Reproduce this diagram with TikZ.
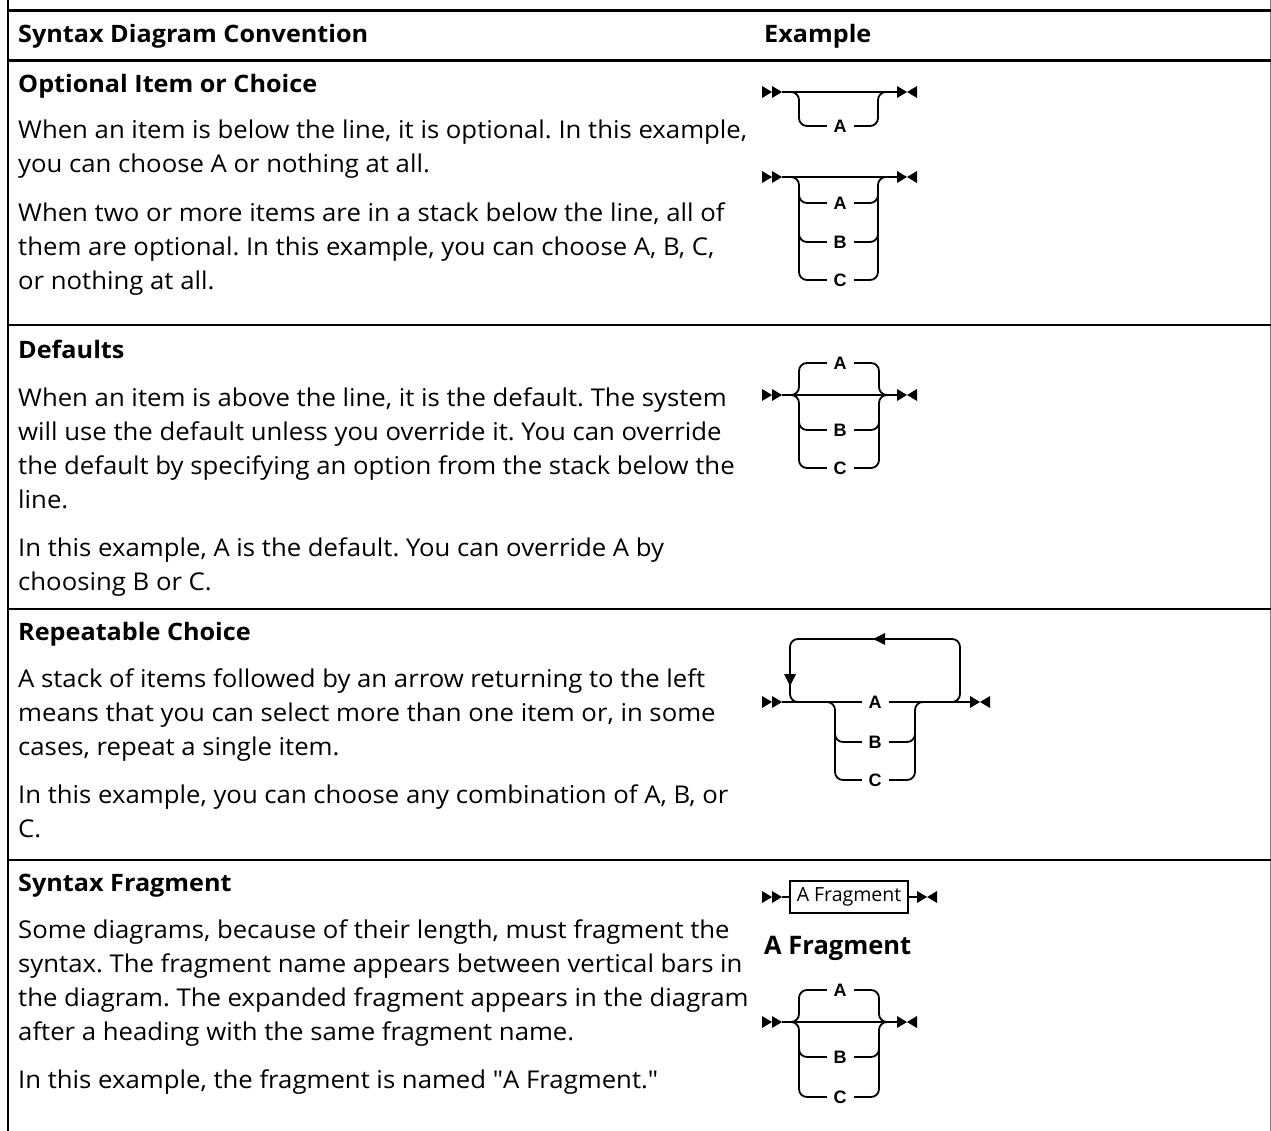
\documentclass[tikz,border=0pt]{standalone}
\usepackage{fontspec}
\setmainfont[FakeStretch=1.05]{Open Sans}
\newfontfamily\boxfont{Open Sans}
\newfontfamily\qfont[FakeStretch=1.05]{Open Sans}
\newfontfamily\lblfont{Liberation Sans}
\frenchspacing
\begin{document}
\begin{tikzpicture}[x=1pt,y=-1pt,
  txt/.style={anchor=base west, inner sep=0pt, font=\fontsize{24.5}{34}\selectfont},
  hd/.style={anchor=base west, inner sep=0pt, font=\fontsize{24}{34}\selectfont\bfseries},
  syn/.style={line width=1.8pt, rounded corners=8pt},
  lbl/.style={fill=white, inner xsep=7pt, inner ysep=1pt, font=\fontsize{18}{18}\lblfont\bfseries\selectfont},
  starttips/.pic={\fill (-20,-6) -- (-10,0) -- (-20,6) -- cycle; \fill (-10,-6) -- (0,0) -- (-10,6) -- cycle;},
  endtips/.pic={\fill (0,-6) -- (10,0) -- (0,6) -- cycle; \fill (20,-6) -- (10,0) -- (20,6) -- cycle;}
]
\useasboundingbox (0,0) rectangle (1271,1131);
% table frame
\draw[line width=2pt] (8,0) -- (8,1131);
\draw[gray, line width=1pt] (1270.5,0) -- (1270.5,1131);
\draw[line width=3pt] (7,10.5) -- (1271,10.5);
\draw[line width=3pt] (7,61) -- (1271,61);
\draw[line width=2.5pt] (7,325) -- (1271,325);
\draw[line width=2.5pt] (7,609) -- (1271,609);
\draw[line width=2.5pt] (7,860) -- (1271,860);
% header
\node[hd] (h1) at (18,43) {Syntax Diagram Convention};
\node[hd] (h2) at (764,43) {Example};
% row 1
\node[hd] (t1) at (18,93) {Optional Item or Choice};
\node[txt] (t1a) at (18,139) {When an item is below the line, it is optional. In this example,};
\node[txt] (t1b) at (18,173) {you can choose A or nothing at all.};
\node[txt] (t1c) at (18,222) {When two or more items are in a stack below the line, all of};
\node[txt] (t1d) at (18,256) {them are optional. In this example, you can choose A, B, C,};
\node[txt] (t1e) at (18,290) {or nothing at all.};
% row 2
\node[hd] (t2) at (18,359) {Defaults};
\node[txt] (t2a) at (18,406) {When an item is above the line, it is the default. The system};
\node[txt] (t2b) at (18,440) {will use the default unless you override it. You can override};
\node[txt] (t2c) at (18,474) {the default by specifying an option from the stack below the};
\node[txt] (t2d) at (18,508) {line.};
\node[txt] (t2e) at (18,556) {In this example, A is the default. You can override A by};
\node[txt] (t2f) at (18,590) {choosing B or C.};
% row 3
\node[hd] (t3) at (18,640) {Repeatable Choice};
\node[txt] (t3a) at (18,687) {A stack of items followed by an arrow returning to the left};
\node[txt] (t3b) at (18,721) {means that you can select more than one item or, in some};
\node[txt] (t3c) at (18,755) {cases, repeat a single item.};
\node[txt] (t3d) at (18,803) {In this example, you can choose any combination of A, B, or};
\node[txt] (t3e) at (18,837) {C.};
% row 4
\node[hd] (t4) at (18,891) {Syntax Fragment};
\node[txt] (t4a) at (18,938) {Some diagrams, because of their length, must fragment the};
\node[txt] (t4b) at (18,972) {syntax. The fragment name appears between vertical bars in};
\node[txt] (t4c) at (18,1006) {the diagram. The expanded fragment appears in the diagram};
\node[txt] (t4d) at (18,1040) {after a heading with the same fragment name.};
\node[txt] (t4e) at (18,1088) {In this example, the fragment is named {\qfont"}A Fragment.{\qfont"}};

% ---- diagram 1: optional A
\draw[syn] (782,92) -- (897,92);
\draw[syn] (790,92) -| (799,126) -| (878,92) -- (887,92);
\node[lbl] (d1a) at (840,126) {A};
\pic at (782,92) {starttips};
\pic at (897,92) {endtips};

% ---- diagram 2: optional stack
\draw[syn] (782,177) -- (897,177);
\draw[syn] (790,177) -| (799,280) -| (878,177) -- (887,177);
\draw[syn] (799,188) |- (840,203) -| (878,188);
\draw[syn] (799,227) |- (840,242) -| (878,227);
\node[lbl] (d2a) at (840,203) {A};
\node[lbl] (d2b) at (840,242) {B};
\node[lbl] (d2c) at (840,280) {C};
\pic at (782,177) {starttips};
\pic at (897,177) {endtips};

% ---- diagram 3: defaults
\draw[syn] (782,395) -- (897,395);
\draw[syn] (790,395) -| (799,363) -| (879,395) -- (888,395);
\draw[syn] (790,395) -| (799,468) -| (879,395) -- (888,395);
\draw[syn] (799,415) |- (840,430) -| (879,415);
\node[lbl] (d3a) at (840,363) {A};
\node[lbl] (d3b) at (840,430) {B};
\node[lbl] (d3c) at (840,468) {C};
\pic at (782,395) {starttips};
\pic at (897,395) {endtips};

% ---- diagram 4: repeatable
\draw[syn] (782,702) -- (970,702);
\draw[syn] (950,702) -| (960,639) -| (790,702) -- (800,702);
\draw[syn] (825,702) -| (835,780) -| (915,702) -- (925,702);
\draw[syn] (835,727) |- (875,742) -| (915,727);
\fill (873,639) -- (885,633) -- (885,645) -- cycle;
\fill (790,686) -- (784,674) -- (796,674) -- cycle;
\node[lbl] (d4a) at (875,702) {A};
\node[lbl] (d4b) at (875,742) {B};
\node[lbl] (d4c) at (875,780) {C};
\pic at (782,702) {starttips};
\pic at (970,702) {endtips};

% ---- diagram 5: fragment reference
\node[draw, line width=1.5pt, minimum width=118pt, minimum height=32pt, inner sep=0pt,
      font=\boxfont\fontsize{19.5}{20}\selectfont] (frag) at (849,897) {A Fragment};
\draw[line width=1.8pt] (782,897) -- (frag.west);
\draw[line width=1.8pt] (frag.east) -- (917,897);
\pic at (782,897) {starttips};
\pic at (917,897) {endtips};
\node[anchor=base west, inner sep=0pt, font=\boxfont\fontsize{25.5}{30}\selectfont\bfseries] (fh) at (764,954) {A Fragment};

% ---- diagram 6: fragment expansion
\draw[syn] (782,1022) -- (897,1022);
\draw[syn] (790,1022) -| (799,990) -| (879,1022) -- (888,1022);
\draw[syn] (790,1022) -| (799,1097) -| (879,1022) -- (888,1022);
\draw[syn] (799,1042) |- (840,1057) -| (879,1042);
\node[lbl] (d6a) at (840,990) {A};
\node[lbl] (d6b) at (840,1057) {B};
\node[lbl] (d6c) at (840,1097) {C};
\pic at (782,1022) {starttips};
\pic at (897,1022) {endtips};
\end{tikzpicture}
\end{document}
